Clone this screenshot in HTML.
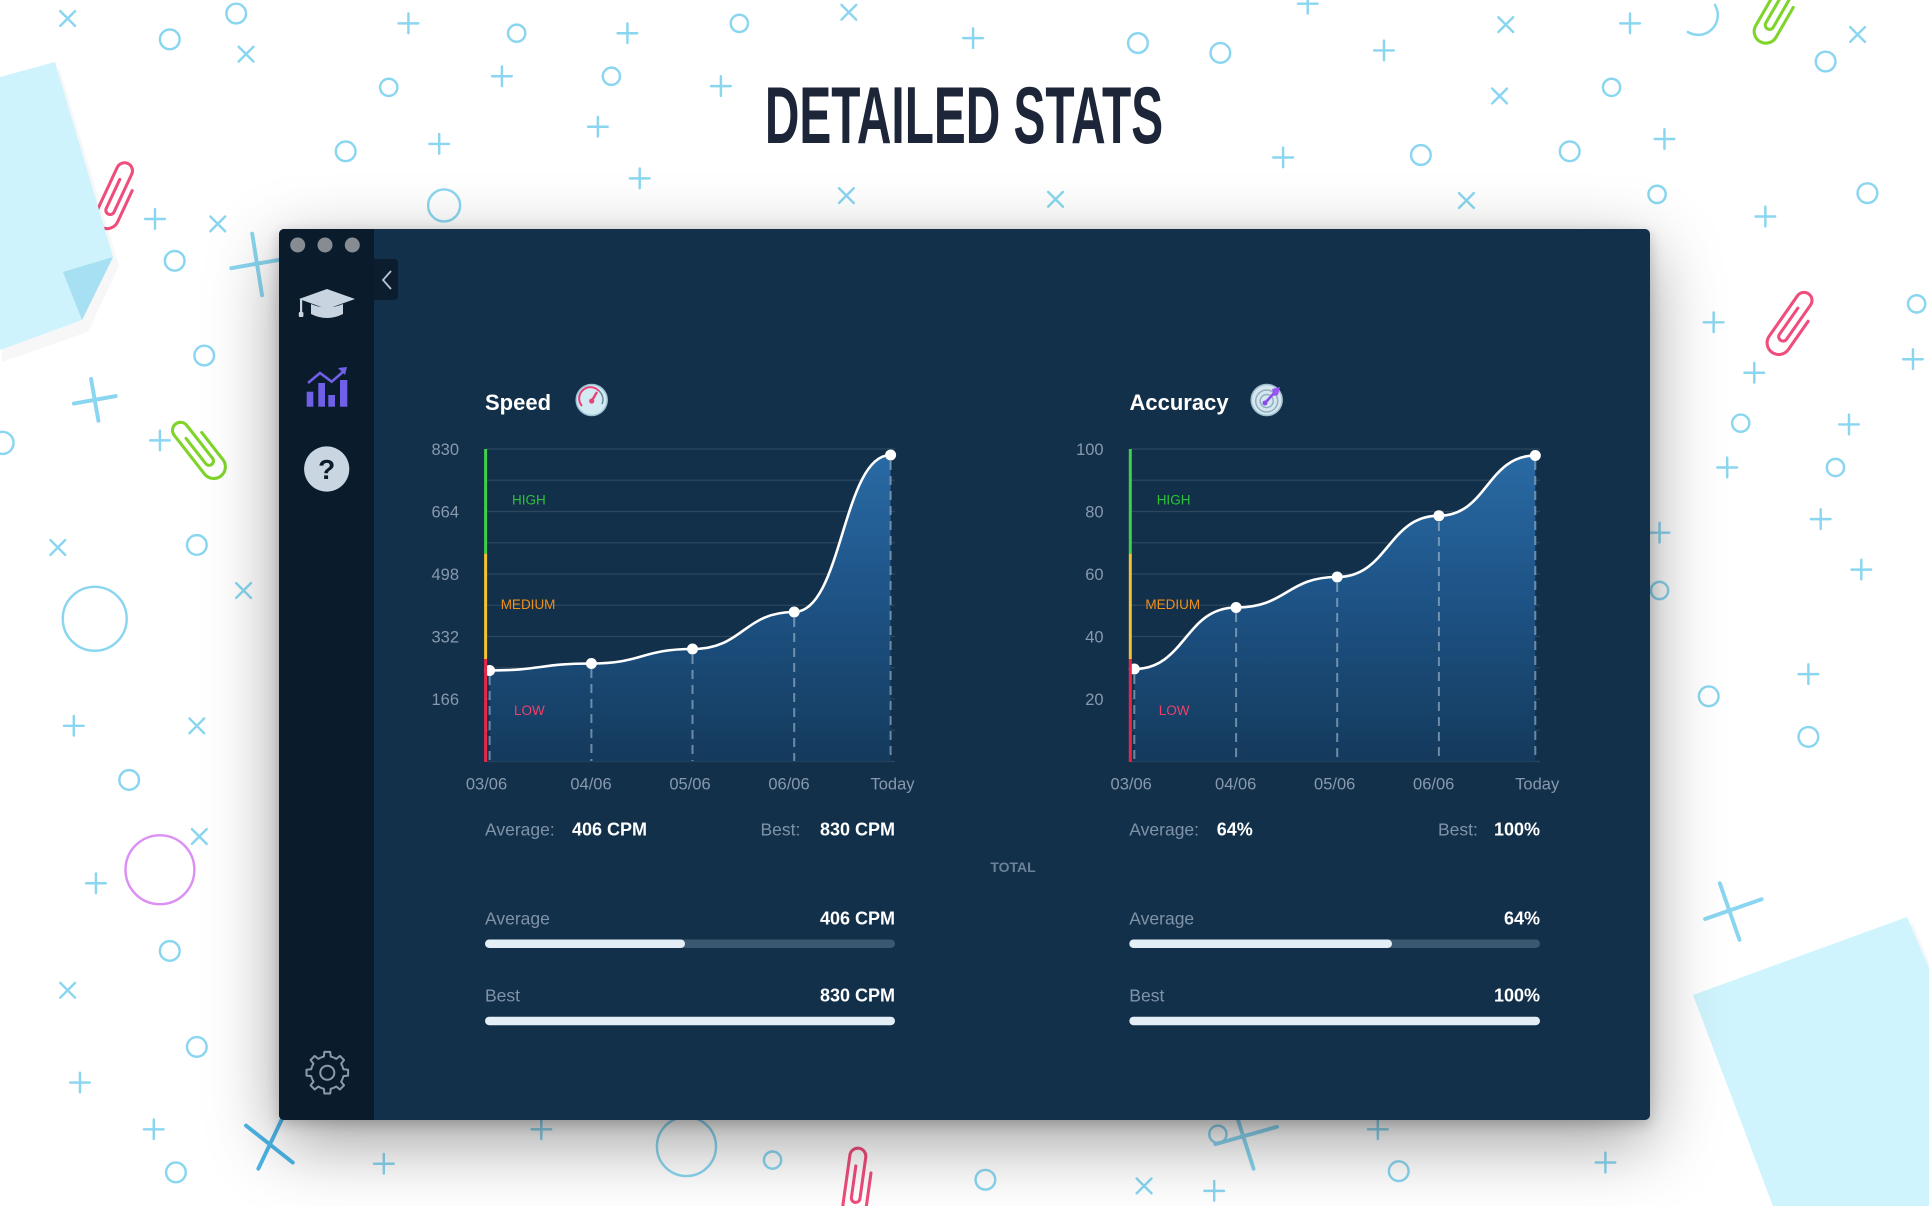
<!DOCTYPE html>
<html><head><meta charset="utf-8"><style>
html,body{margin:0;padding:0;background:#fff;}
body{width:1929px;height:1206px;position:relative;overflow:hidden;font-family:"Liberation Sans",sans-serif;}
#bg{position:absolute;left:0;top:0;}
#win{position:absolute;left:279px;top:229px;width:1371px;height:891px;background:#13304a;border-radius:5px;box-shadow:0 22px 70px rgba(0,0,0,0.38),0 4px 14px rgba(0,0,0,0.2);overflow:hidden;}
#side{position:absolute;left:0;top:0;width:95px;height:891px;background:#0a1c2c;}
#fg{position:absolute;left:0;top:0;}
</style></head><body>
<svg id="bg" width="1929" height="1206" viewBox="0 0 1929 1206">
<g transform="scale(1.2302)" fill="none" stroke="#8ad6f0" stroke-width="2" stroke-linecap="round">
<circle cx="192" cy="11" r="8"/><circle cx="138" cy="32" r="8"/><circle cx="316" cy="71" r="7"/><circle cx="420" cy="27" r="7"/><circle cx="497" cy="62" r="7"/><circle cx="601" cy="19" r="7"/><circle cx="925" cy="35" r="8"/><circle cx="992" cy="43" r="8"/><circle cx="1310" cy="71" r="7"/><circle cx="1484" cy="50" r="8"/><circle cx="281" cy="123" r="8"/><circle cx="361" cy="167" r="13"/><circle cx="1155" cy="126" r="8"/><circle cx="1276" cy="123" r="8"/><circle cx="1347" cy="158" r="7"/><circle cx="1518" cy="157" r="8"/><circle cx="142" cy="212" r="8"/><circle cx="166" cy="289" r="8"/><circle cx="1558" cy="247" r="7"/><circle cx="1415" cy="344" r="7"/><circle cx="1492" cy="380" r="7"/><circle cx="2" cy="360" r="9"/><circle cx="160" cy="443" r="8"/><circle cx="77" cy="503" r="26"/><circle cx="1349" cy="480" r="7"/><circle cx="1389" cy="566" r="8"/><circle cx="1470" cy="599" r="8"/><circle cx="105" cy="634" r="8"/><circle cx="138" cy="773" r="8"/><circle cx="160" cy="851" r="8"/><circle cx="143" cy="953" r="8"/><circle cx="558" cy="932" r="24"/><circle cx="628" cy="943" r="7"/><circle cx="801" cy="959" r="8"/><circle cx="1137" cy="952" r="8"/><circle cx="990" cy="922" r="7"/>
<path d="M1372,26 A16,16 0 0 0 1394,4"/>
<circle cx="130" cy="707" r="28" stroke="#dc8ff5"/>
<path d="M49,9l12,12M61,9l-12,12"/><path d="M194,38l12,12M206,38l-12,12"/><path d="M684,4l12,12M696,4l-12,12"/><path d="M1218,14l12,12M1230,14l-12,12"/><path d="M1504,22l12,12M1516,22l-12,12"/><path d="M1213,72l12,12M1225,72l-12,12"/><path d="M682,153l12,12M694,153l-12,12"/><path d="M852,156l12,12M864,156l-12,12"/><path d="M1186,157l12,12M1198,157l-12,12"/><path d="M171,176l12,12M183,176l-12,12"/><path d="M41,439l12,12M53,439l-12,12"/><path d="M192,474l12,12M204,474l-12,12"/><path d="M154,584l12,12M166,584l-12,12"/><path d="M156,674l12,12M168,674l-12,12"/><path d="M49,799l12,12M61,799l-12,12"/><path d="M924,958l12,12M936,958l-12,12"/>
<path d="M332,11v16M324,19h16"/><path d="M408,54v16M400,62h16"/><path d="M510,19v16M502,27h16"/><path d="M586,62v16M578,70h16"/><path d="M791,23v16M783,31h16"/><path d="M1063,-5v16M1055,3h16"/><path d="M1125,33v16M1117,41h16"/><path d="M1325,11v16M1317,19h16"/><path d="M486,95v16M478,103h16"/><path d="M357,109v16M349,117h16"/><path d="M520,137v16M512,145h16"/><path d="M1043,120v16M1035,128h16"/><path d="M1353,105v16M1345,113h16"/><path d="M1435,168v16M1427,176h16"/><path d="M126,170v16M118,178h16"/><path d="M130,350v16M122,358h16"/><path d="M1393,254v16M1385,262h16"/><path d="M1555,284v16M1547,292h16"/><path d="M1426,295v16M1418,303h16"/><path d="M1503,337v16M1495,345h16"/><path d="M1404,372v16M1396,380h16"/><path d="M1480,414v16M1472,422h16"/><path d="M1513,455v16M1505,463h16"/><path d="M1349,425v16M1341,433h16"/><path d="M1470,540v16M1462,548h16"/><path d="M60,582v16M52,590h16"/><path d="M78,710v16M70,718h16"/><path d="M65,872v16M57,880h16"/><path d="M125,910v16M117,918h16"/><path d="M312,938v16M304,946h16"/><path d="M440,910v16M432,918h16"/><path d="M1120,910v16M1112,918h16"/><path d="M987,960v16M979,968h16"/><path d="M1305,937v16M1297,945h16"/>
<g stroke-width="3.2">
<path d="M74,308l6,34M60,328l34,-6"/>
<path d="M205,190l8,50M188,218l46,-8" />
<path d="M1398,718l16,46M1386,747l46,-16"/>
<path d="M1003,900l16,50M988,930l50,-14"/>
<path d="M200,915l38,30M210,950l20,-42" stroke="#4db6e8"/>
</g>
<g stroke-width="2.5">
<path transform="translate(95,158) rotate(25)" stroke="#ef4d7b" d="M-3,-12 V14 A3.5,3.5 0 0 0 4,14 V-20 A6.5,6.5 0 0 0 -9,-20 V20 A9.5,9.5 0 0 0 10,20 V-8"/>
<path transform="translate(161,364) rotate(-38)" stroke="#7fd42a" d="M-3,-12 V14 A3.5,3.5 0 0 0 4,14 V-20 A6.5,6.5 0 0 0 -9,-20 V20 A9.5,9.5 0 0 0 10,20 V-8"/>
<path transform="translate(1457,262) rotate(35)" stroke="#ef4d7b" d="M-3,-12 V14 A3.5,3.5 0 0 0 4,14 V-20 A6.5,6.5 0 0 0 -9,-20 V20 A9.5,9.5 0 0 0 10,20 V-8"/>
<path transform="translate(1445,8) rotate(30)" stroke="#7fd42a" d="M-3,-12 V14 A3.5,3.5 0 0 0 4,14 V-20 A6.5,6.5 0 0 0 -9,-20 V20 A9.5,9.5 0 0 0 10,20 V-8"/>
<path transform="translate(697,960) rotate(8)" stroke="#ef4d7b" d="M-3,-12 V14 A3.5,3.5 0 0 0 4,14 V-20 A6.5,6.5 0 0 0 -9,-20 V20 A9.5,9.5 0 0 0 10,20 V-8"/>
</g>
</g>
<polygon points="0,82 58,66 117,262 86,328 0,358" fill="#000" opacity="0.03" transform="translate(2,4)"/>
<polygon points="0,77 55,62 113,257 82,320 0,350" fill="#cef3fd"/>
<polygon points="63,272 113,257 82,320" fill="#a6e0f2"/>
<polygon points="1693,999 1910,919 1929,965 1929,1206 1775,1206" fill="#000" opacity="0.03" transform="translate(3,4)"/>
<polygon points="1693,995 1907,917 1929,968 1929,1206 1773,1206" fill="#d0f4fd"/>
<text transform="translate(964,143) scale(0.59,1)" text-anchor="middle" font-family="Liberation Sans, sans-serif" font-weight="bold" font-size="81" fill="#1c2638">DETAILED STATS</text>
</svg>

<div id="win"><div id="side"></div></div>

<svg id="fg" width="1929" height="1206" viewBox="0 0 1929 1206" font-family="Liberation Sans, sans-serif">
<defs>
<linearGradient id="fill" x1="0" y1="449" x2="0" y2="761.5" gradientUnits="userSpaceOnUse">
<stop offset="0" stop-color="#2a6ba6"/><stop offset="0.5" stop-color="#1d5284"/><stop offset="1" stop-color="#143a5c"/>
</linearGradient>
</defs>
<circle cx="297.7" cy="245" r="7.5" fill="#868c92"/><circle cx="325" cy="245" r="7.5" fill="#868c92"/><circle cx="352.3" cy="245" r="7.5" fill="#868c92"/>
<path d="M374,259 h20 a4,4 0 0 1 4,4 v33 a4,4 0 0 1 -4,4 h-20 z" fill="#0b1d2e"/>
<path d="M391,271 L383,280 L391,289" fill="none" stroke="#b8c6d4" stroke-width="1.8"/>
<g fill="#c8d5e1">
<polygon points="299,299 327,289 355,299 327,309"/>
<path d="M311,304 L311,314 Q327,322 343,314 L343,304 Q327,311 311,304 Z"/>
<rect x="300" y="299" width="2.2" height="15"/><rect x="298.8" y="312" width="4.6" height="5" rx="1"/>
</g>
<g fill="#7060e8">
<rect x="306.7" y="391.7" width="6.6" height="15"/><rect x="318.3" y="383" width="6.7" height="23.7"/><rect x="328.3" y="395" width="6.7" height="11.7"/><rect x="340" y="380" width="7.3" height="26.7"/>
</g>
<polyline points="308,383 320,373 331.7,381.7 344,371" fill="none" stroke="#7060e8" stroke-width="2.6"/>
<polygon points="347,367 338,368 345,375" fill="#7060e8"/>
<circle cx="326.7" cy="469" r="22.6" fill="#c9d5e0"/>
<text x="326.7" y="479" text-anchor="middle" font-size="28" font-weight="bold" fill="#0a1c2c">?</text>
<g transform="translate(327.3,1072.7)" fill="none" stroke="#8c9aaa" stroke-width="2" stroke-linejoin="round">
<path d="M15.24,-6.31 L16.14,-3.43 L20.8,-2.92 L20.8,2.92 L16.14,3.43 L15.24,6.31"/>
<path transform="rotate(45)" d="M15.24,-6.31 L16.14,-3.43 L20.8,-2.92 L20.8,2.92 L16.14,3.43 L15.24,6.31"/>
<path transform="rotate(90)" d="M15.24,-6.31 L16.14,-3.43 L20.8,-2.92 L20.8,2.92 L16.14,3.43 L15.24,6.31"/>
<path transform="rotate(135)" d="M15.24,-6.31 L16.14,-3.43 L20.8,-2.92 L20.8,2.92 L16.14,3.43 L15.24,6.31"/>
<path transform="rotate(180)" d="M15.24,-6.31 L16.14,-3.43 L20.8,-2.92 L20.8,2.92 L16.14,3.43 L15.24,6.31"/>
<path transform="rotate(225)" d="M15.24,-6.31 L16.14,-3.43 L20.8,-2.92 L20.8,2.92 L16.14,3.43 L15.24,6.31"/>
<path transform="rotate(270)" d="M15.24,-6.31 L16.14,-3.43 L20.8,-2.92 L20.8,2.92 L16.14,3.43 L15.24,6.31"/>
<path transform="rotate(315)" d="M15.24,-6.31 L16.14,-3.43 L20.8,-2.92 L20.8,2.92 L16.14,3.43 L15.24,6.31"/>
<circle r="7"/>
</g>

<text x="485" y="410" font-size="22" font-weight="bold" fill="#ffffff">Speed</text>
<circle cx="591.7" cy="400" r="15.5" fill="#d3eaf3" stroke="#9fc4d6" stroke-width="1.5"/>
<path d="M582,406 A11,11 0 0 1 599,391" fill="none" stroke="#e8407a" stroke-width="2"/>
<path d="M599,391 A11,11 0 0 1 602,404" fill="none" stroke="#6f8796" stroke-width="1.5"/>
<line x1="591.7" y1="401" x2="597" y2="392" stroke="#e8407a" stroke-width="2.4"/>
<circle cx="591.7" cy="401" r="2.6" fill="#e8407a"/>
<g stroke="#ffffff" stroke-opacity="0.11" stroke-width="1.3">
<line x1="486" y1="449" x2="895" y2="449"/><line x1="486" y1="480.25" x2="895" y2="480.25"/><line x1="486" y1="511.5" x2="895" y2="511.5"/><line x1="486" y1="542.75" x2="895" y2="542.75"/><line x1="486" y1="574" x2="895" y2="574"/><line x1="486" y1="605.25" x2="895" y2="605.25"/><line x1="486" y1="636.5" x2="895" y2="636.5"/><line x1="486" y1="667.75" x2="895" y2="667.75"/><line x1="486" y1="699" x2="895" y2="699"/><line x1="486" y1="730.25" x2="895" y2="730.25"/><line x1="486" y1="761.5" x2="895" y2="761.5"/>
</g>
<path d="M489.6,761.5 L489.6,670.5 C540.5,670.5 540.5,663.5 591.4,663.5 C642,663.5 642,649 692.5,649 C743.4,649 743.4,612 794.2,612 C842.4,612 842.4,455 890.6,455 L890.6,761.5 Z" fill="url(#fill)"/>
<g stroke="#a9bfd2" stroke-opacity="0.6" stroke-width="2" stroke-dasharray="9,6">
<line x1="489.6" y1="676" x2="489.6" y2="761"/><line x1="591.4" y1="669" x2="591.4" y2="761"/><line x1="692.5" y1="655" x2="692.5" y2="761"/><line x1="794.2" y1="618" x2="794.2" y2="761"/><line x1="890.6" y1="461" x2="890.6" y2="761"/>
</g>
<path d="M489.6,670.5 C540.5,670.5 540.5,663.5 591.4,663.5 C642,663.5 642,649 692.5,649 C743.4,649 743.4,612 794.2,612 C842.4,612 842.4,455 890.6,455" fill="none" stroke="#ffffff" stroke-width="2.6"/>
<g fill="#ffffff"><circle cx="489.6" cy="670.5" r="5.5"/><circle cx="591.4" cy="663.5" r="5.5"/><circle cx="692.5" cy="649" r="5.5"/><circle cx="794.2" cy="612" r="5.5"/><circle cx="890.6" cy="455" r="5.5"/></g>
<line x1="485.6" y1="449" x2="485.6" y2="553.6" stroke="#3fcf4b" stroke-width="3"/>
<line x1="485.6" y1="553.6" x2="485.6" y2="659" stroke="#f2c230" stroke-width="3"/>
<line x1="485.6" y1="659" x2="485.6" y2="762" stroke="#e8264a" stroke-width="3"/>
<text x="512" y="504.5" font-size="13.5" fill="#2bc23a">HIGH</text>
<text x="500.7" y="609" font-size="13.5" fill="#f0901a">MEDIUM</text>
<text x="514" y="714.8" font-size="13.5" fill="#f0406a">LOW</text>
<g font-size="16.5" fill="#8799ad" text-anchor="end">
<text x="459" y="455">830</text><text x="459" y="517.5">664</text><text x="459" y="580">498</text><text x="459" y="642.5">332</text><text x="459" y="705">166</text>
</g>
<g font-size="16.5" fill="#8799ad" text-anchor="middle">
<text x="486.5" y="789.6">03/06</text><text x="591" y="789.6">04/06</text><text x="690" y="789.6">05/06</text><text x="789" y="789.6">06/06</text><text x="892.5" y="789.6">Today</text>
</g>
<text x="485" y="835.5" font-size="17.5" fill="#7f93a8">Average:</text>
<text x="572" y="835.5" font-size="18" font-weight="bold" fill="#ffffff">406 CPM</text>
<text x="760.5" y="835.5" font-size="17.5" fill="#7f93a8">Best:</text>
<text x="895" y="835.5" font-size="18" font-weight="bold" fill="#ffffff" text-anchor="end">830 CPM</text>
<text x="485" y="924.5" font-size="17.5" fill="#7f93a8">Average</text>
<text x="895" y="924.5" font-size="18" font-weight="bold" fill="#ffffff" text-anchor="end">406 CPM</text>
<rect x="485" y="939.5" width="410" height="8.5" rx="4.2" fill="#3b5870"/>
<rect x="485" y="939.5" width="200" height="8.5" rx="4.2" fill="#e4eef6"/>
<text x="485" y="1001.5" font-size="17.5" fill="#7f93a8">Best</text>
<text x="895" y="1001.5" font-size="18" font-weight="bold" fill="#ffffff" text-anchor="end">830 CPM</text>
<rect x="485" y="1016.7" width="410" height="8.5" rx="4.2" fill="#e4eef6"/>

<text x="1013" y="872" font-size="14" font-weight="bold" fill="#6b8198" text-anchor="middle">TOTAL</text>

<text x="1129.5" y="410" font-size="22" font-weight="bold" fill="#ffffff">Accuracy</text>
<circle cx="1266.7" cy="400" r="15.5" fill="#d6e6ee" stroke="#9fc0d0" stroke-width="1.5"/>
<circle cx="1266.7" cy="401" r="11" fill="none" stroke="#8fb0c2" stroke-width="1.5"/>
<circle cx="1266.7" cy="401" r="6.5" fill="none" stroke="#8fb0c2" stroke-width="1.5"/>
<line x1="1265" y1="403" x2="1275" y2="392" stroke="#8a4ce8" stroke-width="2.6"/>
<polygon points="1272,389 1280,387 1278,395 1274,396" fill="#9b55f0"/>
<circle cx="1265" cy="403" r="2.5" fill="#8a4ce8"/>
<g stroke="#ffffff" stroke-opacity="0.11" stroke-width="1.3">
<line x1="1131" y1="449" x2="1540" y2="449"/><line x1="1131" y1="480.25" x2="1540" y2="480.25"/><line x1="1131" y1="511.5" x2="1540" y2="511.5"/><line x1="1131" y1="542.75" x2="1540" y2="542.75"/><line x1="1131" y1="574" x2="1540" y2="574"/><line x1="1131" y1="605.25" x2="1540" y2="605.25"/><line x1="1131" y1="636.5" x2="1540" y2="636.5"/><line x1="1131" y1="667.75" x2="1540" y2="667.75"/><line x1="1131" y1="699" x2="1540" y2="699"/><line x1="1131" y1="730.25" x2="1540" y2="730.25"/><line x1="1131" y1="761.5" x2="1540" y2="761.5"/>
</g>
<path d="M1134.3,761.5 L1134.3,669 C1185.2,669 1185.2,607.5 1236.1,607.5 C1286.7,607.5 1286.7,577 1337.2,577 C1388,577 1388,515.7 1438.9,515.7 C1487.1,515.7 1487.1,455.5 1535.3,455.5 L1535.3,761.5 Z" fill="url(#fill)"/>
<g stroke="#a9bfd2" stroke-opacity="0.6" stroke-width="2" stroke-dasharray="9,6">
<line x1="1134.3" y1="675" x2="1134.3" y2="761"/><line x1="1236.1" y1="613" x2="1236.1" y2="761"/><line x1="1337.2" y1="583" x2="1337.2" y2="761"/><line x1="1438.9" y1="522" x2="1438.9" y2="761"/><line x1="1535.3" y1="461" x2="1535.3" y2="761"/>
</g>
<path d="M1134.3,669 C1185.2,669 1185.2,607.5 1236.1,607.5 C1286.7,607.5 1286.7,577 1337.2,577 C1388,577 1388,515.7 1438.9,515.7 C1487.1,515.7 1487.1,455.5 1535.3,455.5" fill="none" stroke="#ffffff" stroke-width="2.6"/>
<g fill="#ffffff"><circle cx="1134.3" cy="669" r="5.5"/><circle cx="1236.1" cy="607.5" r="5.5"/><circle cx="1337.2" cy="577" r="5.5"/><circle cx="1438.9" cy="515.7" r="5.5"/><circle cx="1535.3" cy="455.5" r="5.5"/></g>
<line x1="1130.3" y1="449" x2="1130.3" y2="553.6" stroke="#3fcf4b" stroke-width="3"/>
<line x1="1130.3" y1="553.6" x2="1130.3" y2="659" stroke="#f2c230" stroke-width="3"/>
<line x1="1130.3" y1="659" x2="1130.3" y2="762" stroke="#e8264a" stroke-width="3"/>
<text x="1156.7" y="504.5" font-size="13.5" fill="#2bc23a">HIGH</text>
<text x="1145.4" y="609" font-size="13.5" fill="#f0901a">MEDIUM</text>
<text x="1158.7" y="714.8" font-size="13.5" fill="#f0406a">LOW</text>
<g font-size="16.5" fill="#8799ad" text-anchor="end">
<text x="1103.6" y="455">100</text><text x="1103.6" y="517.5">80</text><text x="1103.6" y="580">60</text><text x="1103.6" y="642.5">40</text><text x="1103.6" y="705">20</text>
</g>
<g font-size="16.5" fill="#8799ad" text-anchor="middle">
<text x="1131.2" y="789.6">03/06</text><text x="1235.7" y="789.6">04/06</text><text x="1334.7" y="789.6">05/06</text><text x="1433.7" y="789.6">06/06</text><text x="1537.2" y="789.6">Today</text>
</g>
<text x="1129.3" y="835.5" font-size="17.5" fill="#7f93a8">Average:</text>
<text x="1216.7" y="835.5" font-size="18" font-weight="bold" fill="#ffffff">64%</text>
<text x="1438" y="835.5" font-size="17.5" fill="#7f93a8">Best:</text>
<text x="1540" y="835.5" font-size="18" font-weight="bold" fill="#ffffff" text-anchor="end">100%</text>
<text x="1129.3" y="924.5" font-size="17.5" fill="#7f93a8">Average</text>
<text x="1540" y="924.5" font-size="18" font-weight="bold" fill="#ffffff" text-anchor="end">64%</text>
<rect x="1129.3" y="939.5" width="410.7" height="8.5" rx="4.2" fill="#3b5870"/>
<rect x="1129.3" y="939.5" width="262.7" height="8.5" rx="4.2" fill="#e4eef6"/>
<text x="1129.3" y="1001.5" font-size="17.5" fill="#7f93a8">Best</text>
<text x="1540" y="1001.5" font-size="18" font-weight="bold" fill="#ffffff" text-anchor="end">100%</text>
<rect x="1129.3" y="1016.7" width="410.7" height="8.5" rx="4.2" fill="#e4eef6"/>
</svg>
</body></html>
